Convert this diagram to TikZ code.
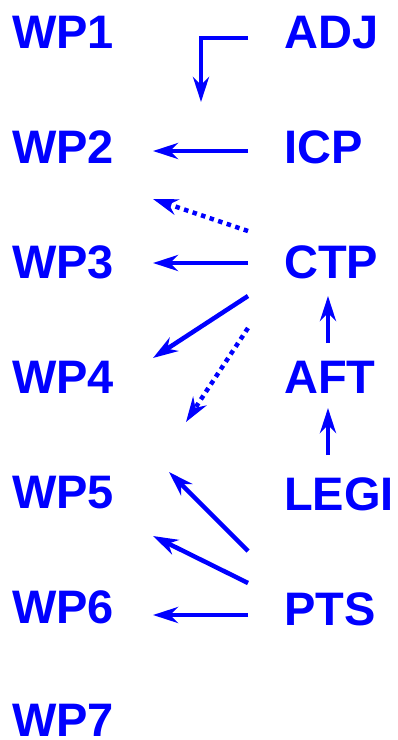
\documentclass[tikz,border=0pt]{standalone}
\usepackage{fontspec}
\setmainfont{Liberation Sans}
\usetikzlibrary{arrows.meta}
\definecolor{wpblue}{RGB}{0,0,255}
\begin{document}
\begin{tikzpicture}[x=1pt,y=-1pt,
  lbl/.style={anchor=base west,inner sep=0pt,text=wpblue,
    font=\fontsize{47}{47}\selectfont\bfseries},
  link/.style={draw=wpblue,line width=4.5pt,
    -{Stealth[length=25pt,width=16pt,inset=8pt]}},
  weak/.style={link,dash pattern=on 4.5pt off 4.5pt}]
\useasboundingbox (0,0) rectangle (397,740);

% work packages (left column)
\node[lbl] (wp1) at (12,48)  {WP1};
\node[lbl] (wp2) at (12,163) {WP2};
\node[lbl] (wp3) at (12,278) {WP3};
\node[lbl] (wp4) at (12,393) {WP4};
\node[lbl] (wp5) at (12,508) {WP5};
\node[lbl] (wp6) at (12,623) {WP6};
\node[lbl] (wp7) at (12,736) {WP7};

% tasks (right column)
\node[lbl] (adj)  at (284,48)  {ADJ};
\node[lbl] (icp)  at (284,163) {ICP};
\node[lbl] (ctp)  at (284,278) {CTP};
\node[lbl] (aft)  at (284,393) {AFT};
\node[lbl] (legi) at (284,510) {LEGI};
\node[lbl] (pts)  at (284,625) {PTS};

% arrow end points
\coordinate (adjOut)  at (248,38);
\coordinate (adjBend) at (201,38);
\coordinate (wp2Top)  at (201,102);
\coordinate (icpOut)  at (248,151);
\coordinate (wp2In)   at (153,151);
\coordinate (ctpOutA) at (248,231);
\coordinate (wp2Low)  at (153,199);
\coordinate (ctpOutB) at (248,263);
\coordinate (wp3In)   at (153,263);
\coordinate (ctpOutC) at (248,296);
\coordinate (wp4In)   at (153,358);
\coordinate (ctpOutD) at (248,328);
\coordinate (wp5Up)   at (186,422);
\coordinate (ctpIn)   at (328,296);
\coordinate (aftOut)  at (328,343);
\coordinate (aftIn)   at (328,408);
\coordinate (legiOut) at (328,455);
\coordinate (legiW)   at (248,551);
\coordinate (wp5In)   at (169,472);
\coordinate (ptsOutA) at (248,583);
\coordinate (wp5Low)  at (153,536);
\coordinate (ptsOutB) at (248,615);
\coordinate (wp6In)   at (153,615);

% connectors
\draw[link] (adjOut) -- (adjBend) -- (wp2Top);
\draw[link] (icpOut) -- (wp2In);
\draw[weak] (ctpOutA) -- (wp2Low);
\draw[link] (ctpOutB) -- (wp3In);
\draw[link] (ctpOutC) -- (wp4In);
\draw[weak] (ctpOutD) -- (wp5Up);
\draw[link] (aftOut) -- (ctpIn);
\draw[link] (legiOut) -- (aftIn);
\draw[link] (legiW) -- (wp5In);
\draw[link] (ptsOutA) -- (wp5Low);
\draw[link] (ptsOutB) -- (wp6In);
\end{tikzpicture}
\end{document}
